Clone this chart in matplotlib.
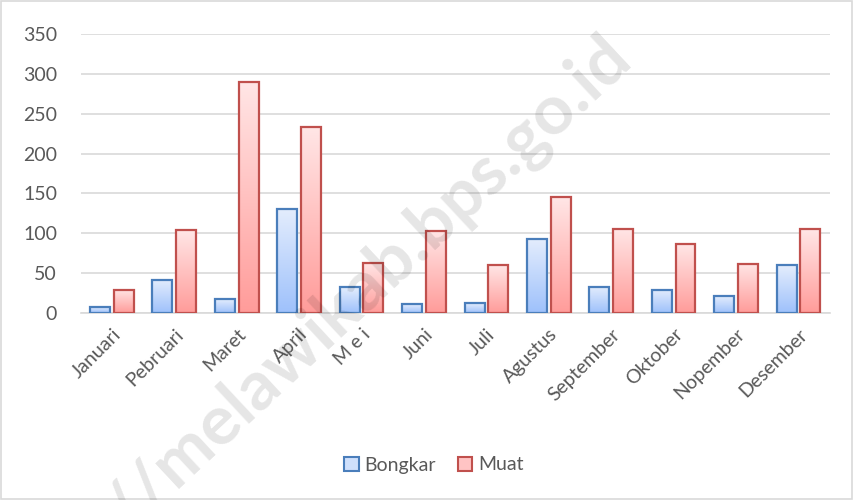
import numpy as np
import matplotlib.pyplot as plt
from matplotlib.patches import Rectangle, Patch

# data
months = ['Januari', 'Pebruari', 'Maret', 'April', 'M e i', 'Juni', 'Juli',
          'Agustus', 'September', 'Oktober', 'Nopember', 'Desember']
bongkar = [8, 42, 17, 131, 32, 11, 12, 93, 33, 29, 21, 60]
muat = [29, 104, 290, 233, 63, 103, 60, 145, 106, 86, 62, 105]
yticks = [0, 50, 100, 150, 200, 250, 300, 350]

plt.rcParams['font.family'] = ['Lato', 'DejaVu Sans']
txt = '#595959'

fig = plt.figure(figsize=(8.54, 5), dpi=100)
ax = fig.add_axes([0.0945, 0.374, 0.877, 0.558])

x = np.arange(len(months))
w = 0.32
off = 0.19


def grad_bars(xs, vals, top, bottom, edge):
    t = np.linspace(0, 1, 100)[:, None, None]
    c0 = np.array(plt.matplotlib.colors.to_rgb(top))
    c1 = np.array(plt.matplotlib.colors.to_rgb(bottom))
    img = c0[None, None, :] * (1 - t) + c1[None, None, :] * t
    bars = ax.bar(xs, vals, w, color='none', edgecolor=edge, linewidth=1.6, zorder=3)
    for b in bars:
        bx, by = b.get_x(), b.get_y()
        bw, bh = b.get_width(), b.get_height()
        im = ax.imshow(img, extent=[bx, bx + bw, by, by + bh], aspect='auto',
                       origin='upper', zorder=2)
        im.set_clip_path(b)
    return bars


grad_bars(x - off, bongkar, '#e4edfd', '#9ec1fb', '#4a7ebb')
grad_bars(x + off, muat, '#ffe6e6', '#ff9c9a', '#c0504d')

ax.set_xlim(-0.5, len(months) - 0.5)
ax.set_ylim(0, 350)
ax.set_yticks(yticks)
ax.yaxis.grid(True, color='#d9d9d9', linewidth=1.2, zorder=0)
ax.set_axisbelow(True)
for s in ['top', 'right', 'left']:
    ax.spines[s].set_visible(False)
ax.spines['bottom'].set_color('#d9d9d9')
ax.spines['bottom'].set_linewidth(1.2)
ax.tick_params(axis='both', length=0, labelsize=14, labelcolor=txt)
ax.tick_params(axis='y', pad=17)
ax.tick_params(axis='x', pad=9)
ax.set_xticks(x)
ax.set_xticklabels(months, rotation=45, ha='right', rotation_mode='anchor')

handles = [Patch(facecolor='#cfe0fc', edgecolor='#4a7ebb', linewidth=1.5, label='Bongkar'),
           Patch(facecolor='#ffc4c4', edgecolor='#c0504d', linewidth=1.5, label='Muat')]
fig.legend(handles=handles, loc='center', bbox_to_anchor=(0.508, 0.07), ncol=2,
           frameon=False, fontsize=14, labelcolor=txt, handlelength=0.75,
           handleheight=0.75, handletextpad=0.3, columnspacing=1.1)

# watermark
fig.text(0.433, 0.43, '//melawikab.bps.go.id', fontsize=50, fontweight='bold',
         color='#000000', alpha=0.1, rotation=43, ha='center', va='center')

fig.patches.append(Rectangle((0.001, 0.002), 0.997, 0.996, transform=fig.transFigure,
                             fill=False, edgecolor='#d9d9d9', linewidth=1.2))

fig.savefig('out.png', dpi=100)
